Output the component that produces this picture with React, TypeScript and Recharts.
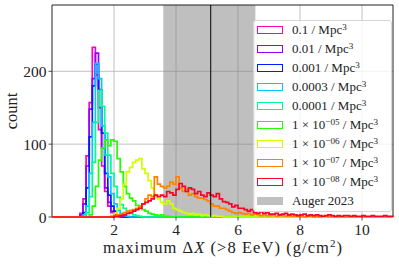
import React from 'react';
import { ComposedChart, Line, XAxis, YAxis, CartesianGrid, ReferenceArea, ReferenceLine } from 'recharts';

const BIN_WIDTH = 0.1;
const N_BINS = 110;
const X_TICKS = [2, 4, 6, 8, 10];
const Y_TICKS = [0, 100, 200];
const AUGER_LOW = 3.59;
const AUGER_HIGH = 6.56;
const AUGER_MEAN = 5.12;

const labels = [
  '0.1', '0.01', '0.001', '0.0003', '0.0001',
  '1e-05', '1e-06', '1e-07', '1e-08',
];
const colors = [
  '#ff00bf', '#9200ff', '#001cff', '#00c9ff', '#00ff89',
  '#22ff00', '#cfff00', '#ff8300', '#ff0029',
];
// start bin (x value of first bin's left edge)
const starts = [0.9, 0.9, 1.0, 1.0, 1.1, 1.2, 1.9, 1.9, 2.0];

const s_0_1 = [5, 25, 84, 157, 233, 195, 120, 70, 35, 15, 6, 3, 1];
const s_0_01 = [3, 18, 70, 148, 190, 225, 150, 95, 40, 20, 8, 4, 2];
const s_0_001 = [6, 40, 110, 180, 210, 175, 115, 60, 30, 15, 8, 3, 1];
const s_0_0003 = [3, 15, 60, 130, 211, 190, 125, 85, 55, 32, 18, 9, 5, 2, 1];
const s_0_0001 = [6, 28, 75, 130, 174, 152, 115, 85, 60, 42, 27, 17, 12, 8, 5, 3, 2, 1];
const s_1e5 = [3, 15, 42, 78, 95, 106, 98, 106, 104, 80, 62, 42, 32, 26, 22, 16, 12, 10, 8, 5, 4, 3, 2, 3, 1, 1];
const s_1e6 = [2, 5, 12, 25, 45, 62, 68, 75, 78, 80, 66, 60, 50, 40, 30, 25, 20, 18, 22, 18, 12, 10, 8, 6, 5, 4, 5, 3, 4, 2, 3, 2, 1, 2, 1, 1];
const s_1e7 = [1, 2, 3, 4, 6, 8, 9, 10, 12, 15, 18, 25, 30, 28, 55, 45, 42, 40, 42, 48, 45, 55, 40, 35, 38, 30, 32, 28, 26, 26, 24, 22, 18, 15, 15, 12, 12, 10, 8, 6, 5, 6, 5, 4, 5, 3, 4, 3, 2, 3, 2, 2, 3, 1, 2, 2, 1, 2, 1, 1, 2, 1, 0, 1, 1, 0, 1, 0, 1, 1, 0, 1];
const s_1e8 = [1, 1, 2, 3, 5, 6, 8, 10, 12, 18, 20, 22, 25, 30, 28, 30, 28, 35, 33, 30, 38, 46, 42, 35, 40, 38, 32, 35, 30, 28, 33, 30, 28, 32, 25, 21, 20, 18, 14, 16, 12, 12, 10, 8, 10, 6, 5, 7, 5, 6, 4, 4, 5, 3, 4, 5, 3, 4, 3, 2, 3, 4, 2, 3, 2, 3, 2, 1, 2, 3, 2, 1, 2, 1, 2, 2, 1, 2, 1, 1, 2, 1, 1, 2, 1, 1, 1, 2, 1, 1];

const seriesValues = [s_0_1, s_0_01, s_0_001, s_0_0003, s_0_0001, s_1e5, s_1e6, s_1e7, s_1e8];

const data = Array.from({ length: N_BINS + 1 }, (_, i) => {
  const x = Math.round(i * BIN_WIDTH * 10) / 10;
  const row: Record<string, number> = { x };
  seriesValues.forEach((vals, s) => {
    const k = i - Math.round(starts[s] / BIN_WIDTH);
    row['s' + s] = i < N_BINS && k >= 0 && k < vals.length ? vals[k] : 0;
  });
  return row;
});

const FONT = '"Liberation Serif", "DejaVu Serif", serif';

const XLabel = (props: any) => {
  const vb = props.viewBox || {};
  const cx = vb.x + vb.width / 2;
  return (
    <text x={cx} y={253} textAnchor="middle" fontFamily={FONT} fontSize={16.5} fill="#222" textLength={239} lengthAdjust="spacing">
      <tspan>maximum Δ</tspan>
      <tspan fontStyle="italic">X</tspan>
      <tspan> (&gt;8 EeV) (g/cm</tspan>
      <tspan fontSize={11} dy={-6}>2</tspan>
      <tspan dy={6}>)</tspan>
    </text>
  );
};

const YLabel = (props: any) => {
  const vb = props.viewBox || {};
  const cy = vb.y + vb.height / 2;
  return (
    <text x={17} y={cy} transform={`rotate(-90 17 ${cy})`} textAnchor="middle" fontFamily={FONT} fontSize={16.5} fill="#222">
      count
    </text>
  );
};

const legendItems = labels.map((l, i) => ({ label: l, color: colors[i] }));

const LegendText = ({ label }: { label: string }) => {
  const sup = { fontSize: '70%', verticalAlign: '0.45em', lineHeight: 0 } as React.CSSProperties;
  if (label.startsWith('1e')) {
    const exp = label.slice(2).replace('-', '\u2212');
    return (
      <span>1 × 10<span style={sup}>{exp}</span> / Mpc<span style={sup}>3</span></span>
    );
  }
  return (
    <span>{label} / Mpc<span style={sup}>3</span></span>
  );
};

export default function App() {
  return (
    <div style={{ position: 'absolute', left: 0, top: 0, width: 399, height: 265, background: '#fff', fontFamily: FONT }}>
      <ComposedChart width={399} height={265} data={data} margin={{ top: 5, right: 6, left: 0, bottom: 0 }}>
        <CartesianGrid stroke="#b0b0b0" strokeWidth={0.8} horizontalValues={[100, 200]} verticalValues={X_TICKS} />
        <ReferenceArea x1={AUGER_LOW} x2={AUGER_HIGH} y1={0} y2={291} fill="#808080" fillOpacity={0.5} stroke="none" zIndex={-50} />
        <XAxis
          dataKey="x"
          type="number"
          domain={[0, 11]}
          ticks={X_TICKS}
          allowDecimals={false}
          height={48}
          axisLine={false}
          tickLine={{ stroke: '#222', strokeWidth: 0.8 }}
          tickSize={3.5}
          tickMargin={3}
          tick={{ fontFamily: FONT, fontSize: 15.5, fill: '#222' }}
          label={<XLabel />}
        />
        <YAxis
          type="number"
          domain={[0, 291]}
          ticks={Y_TICKS}
          width={52}
          axisLine={false}
          tickLine={{ stroke: '#222', strokeWidth: 0.8 }}
          tickSize={3.5}
          tickMargin={2}
          tick={{ fontFamily: FONT, fontSize: 15.5, fill: '#222' }}
          label={<YLabel />}
        />
        {seriesValues.map((_, s) => (
          <Line
            key={s}
            dataKey={'s' + s}
            type="stepAfter"
            stroke={colors[s]}
            strokeWidth={1.7}
            dot={false}
            activeDot={false}
            isAnimationActive={false}
          />
        ))}
        <ReferenceLine x={AUGER_MEAN} stroke="#000" strokeWidth={1} />
        <ReferenceArea x1={0} x2={11} y1={0} y2={291} fill="none" stroke="#222" strokeWidth={1} />
      </ComposedChart>
      <div
        style={{
          position: 'absolute', left: 253, top: 20, width: 139, height: 192,
          background: 'rgba(255,255,255,0.8)', border: '1px solid #d6d6d6', borderRadius: 3,
          boxSizing: 'border-box', fontSize: 13, color: '#222',
        }}
      >
        {legendItems.map((it, i) => (
          <div key={i} style={{ position: 'absolute', left: 0, top: 9 + 19 * i - 8, height: 16, width: '100%' }}>
            <div style={{ position: 'absolute', left: 3, top: 4, width: 26, height: 8, border: `1.5px solid ${it.color}`, boxSizing: 'border-box', background: '#fff' }} />
            <div style={{ position: 'absolute', left: 38, top: 0, lineHeight: '16px', whiteSpace: 'nowrap' }}>
              <LegendText label={it.label} />
            </div>
          </div>
        ))}
        <div style={{ position: 'absolute', left: 0, top: 9 + 19 * 9 - 8, height: 16, width: '100%' }}>
          <div style={{ position: 'absolute', left: 3, top: 4, width: 26, height: 8, background: '#c0c0c0' }} />
          <div style={{ position: 'absolute', left: 38, top: 0, lineHeight: '16px', whiteSpace: 'nowrap' }}>Auger 2023</div>
        </div>
      </div>
    </div>
  );
}
